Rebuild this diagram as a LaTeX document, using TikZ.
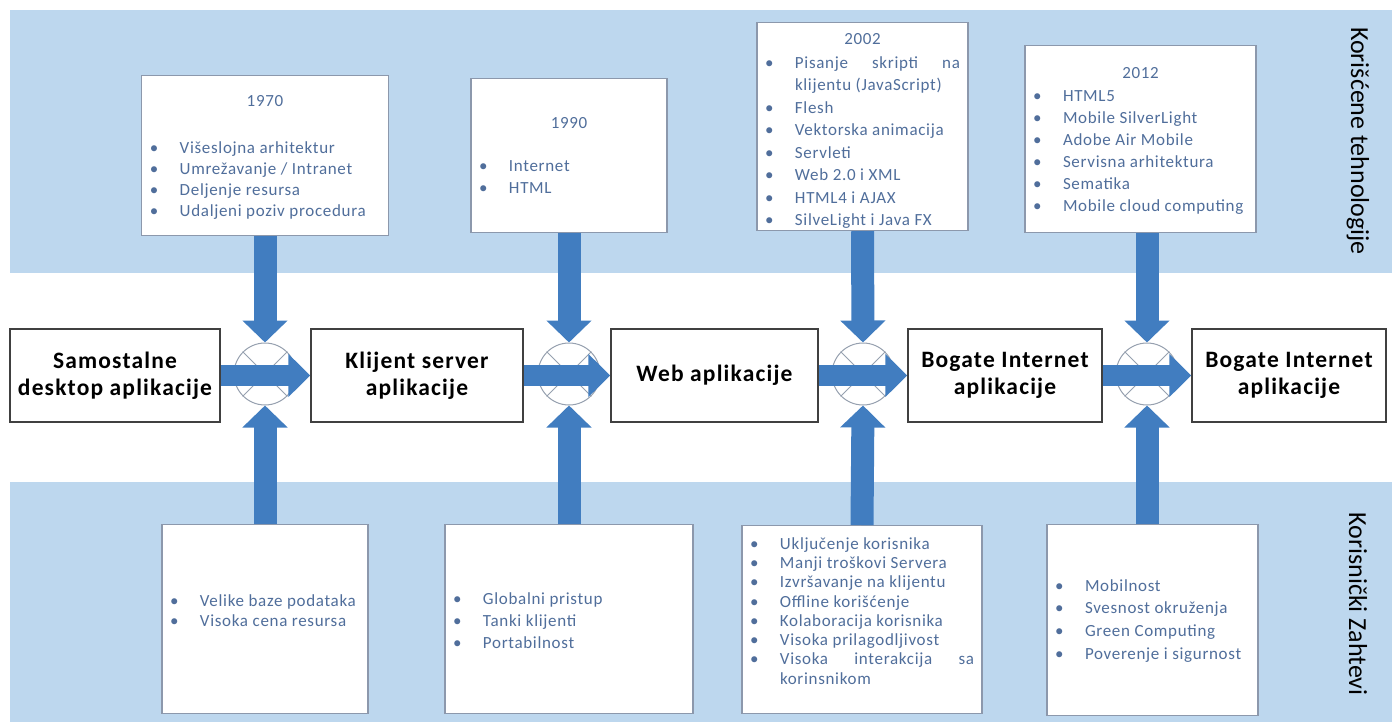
\documentclass[tikz,border=0pt]{standalone}
\usepackage{fontspec}
\setmainfont{Carlito}
\newfontfamily\listface{Carlito}[LetterSpace=4]
\newfontfamily\eraface{Carlito}[LetterSpace=5]
\usetikzlibrary{arrows.meta}
\definecolor{bandblue}{RGB}{189,215,238}
\definecolor{flowblue}{RGB}{65,125,192}
\definecolor{listblue}{RGB}{80,110,155}
\definecolor{listframe}{RGB}{140,152,172}
\definecolor{ringgrey}{RGB}{150,160,175}
\newcommand{\bul}{\makebox[30pt][l]{\textbullet}}
\newcommand{\ind}{\hspace*{30pt}}
\newcommand{\listfont}[1]{\listface\fontsize{17}{#1}\selectfont}
\tikzset{%
  every era/.style={
    draw=black!75,
    line width=1.5pt,
    fill=white,
    minimum height=93pt,
    align=center,
    font=\eraface\fontsize{23.5}{27}\selectfont\bfseries
  },
  list box/.style={
    draw=listframe,
    line width=1.2pt,
    fill=white,
    anchor=north,
    inner xsep=8pt,
    inner ysep=0pt,
    align=flush left,
    text=listblue
  },
  merge/.style={
    circle,
    draw=ringgrey,
    fill=white,
    line width=1pt,
    minimum size=62pt,
    inner sep=0pt
  },
  flow/.style={
    draw=flowblue,
    line width=21pt,
    -{Triangle[width=42pt,length=22pt]}
  },
}

\begin{document}
\begin{tikzpicture}[x=1pt,y=-1pt]
    \useasboundingbox (0,0) rectangle (1395,725);
    % bands
    \fill[bandblue] (10,10) rectangle (1392,273);
    \fill[bandblue] (10,482) rectangle (1392,722);
    \node[rotate=-90,font=\fontsize{26}{30}\selectfont] (tech) at (1358,141) {Korišćene tehnologije};
    \node[rotate=-90,font=\fontsize{26}{30}\selectfont] (req) at (1358,604) {Korisnički Zahtevi};

    % technologies
    \node[list box,text width=230.5pt,text height=30.5pt,text depth=129.5pt,font=\listfont{21}] (t1970) at (265,75)
      {\makebox[\linewidth]{1970}\\[26pt]
       \bul Višeslojna arhitektur\\ \bul Umrežavanje / Intranet\\ \bul Deljenje resursa\\ \bul Udaljeni poziv procedura};
    \node[list box,text width=180pt,text height=49.5pt,text depth=104.5pt,font=\listfont{22}] (t1990) at (569,78)
      {\makebox[\linewidth]{1990}\\[21pt]
       \bul Internet\\ \bul HTML};
    \node[list box,text width=195pt,text height=21.5pt,text depth=186.5pt,font=\listfont{22.5}] (t2002) at (862.5,22)
      {\makebox[\linewidth]{2002}\\[1.5pt]
       \bul Pisanje\hfill skripti\hfill na\\ \ind klijentu (JavaScript)\\ \bul Flesh\\ \bul Vektorska animacija\\
       \bul Servleti\\ \bul Web 2.0 i XML\\ \bul HTML4 i AJAX\\ \bul SilveLight i Java FX};
    \node[list box,text width=215pt,text height=32.5pt,text depth=154.5pt,font=\listfont{22}] (t2012) at (1140.5,45)
      {\makebox[\linewidth]{2012}\\[1pt]
       \bul HTML5\\ \bul Mobile SilverLight\\ \bul Adobe Air Mobile\\ \bul Servisna arhitektura\\
       \bul Sematika\\ \bul Mobile cloud computing};

    % requirements
    \node[list box,text width=190pt,text height=81.5pt,text depth=107.5pt,font=\listfont{20}] (z1) at (265,524)
      {\bul Velike baze podataka\\ \bul Visoka cena resursa};
    \node[list box,text width=232pt,text height=79.5pt,text depth=109.5pt,font=\listfont{22}] (z2) at (569,524)
      {\bul Globalni pristup\\ \bul Tanki klijenti\\ \bul Portabilnost};
    \node[list box,text width=224pt,text height=23.5pt,text depth=164.5pt,font=\listfont{19.3}] (z3) at (862,525)
      {\bul Uključenje korisnika\\ \bul Manji troškovi Servera\\ \bul Izvršavanje na klijentu\\ \bul Offline korišćenje\\
       \bul Kolaboracija korisnika\\ \bul Visoka prilagodljivost\\ \bul Visoka\hfill interakcija\hfill sa\\ \ind korinsnikom};
    \node[list box,text width=195pt,text height=66.5pt,text depth=124.5pt,font=\listfont{22.7}] (z4) at (1152.5,524)
      {\bul Mobilnost\\ \bul Svesnost okruženja\\ \bul Green Computing\\ \bul Poverenje i sigurnost};

    % applications
    \node[every era,minimum width=210pt] (desk) at (115,375.5) {Samostalne\\desktop aplikacije};
    \node[every era,minimum width=212pt] (cs) at (417,375.5) {Klijent server\\aplikacije};
    \node[every era,minimum width=207pt] (web) at (714.5,375.5) {Web aplikacije};
    \node[every era,minimum width=194pt] (ria) at (1005,375.5) {Bogate Internet\\aplikacije};
    \node[every era,minimum width=194pt] (ria2) at (1289,375.5) {Bogate Internet\\aplikacije};

    \node[merge] (m1) at (265,374) {};
    \node[merge] (m2) at (569,374) {};
    \node[merge] (m3) at (863,374) {};
    \node[merge] (m4) at (1147,374) {};
    \foreach \m in {m1,m2,m3,m4}
      \draw[ringgrey,line width=1pt] (\m.north west) -- (\m.south east) (\m.north east) -- (\m.south west);

    \draw[flow] (desk) -- (cs);
    \draw[flow] (cs) -- (web);
    \draw[flow] (web) -- (ria);
    \draw[flow] (ria) -- (ria2);

    \tikzstyle{feed}=[flow,line width=23pt,-{Triangle[width=44pt,length=22pt]}]
    \draw[feed] (t1970.south) -- (m1.north);
    \draw[feed] (t1990.south) -- (m2.north);
    \draw[feed] (t2002.south) -- (m3.north);
    \draw[feed] (t2012.south -| m4) -- (m4.north);
    \draw[feed] (z1.north) -- (m1.south);
    \draw[feed] (z2.north) -- (m2.south);
    \draw[feed] (z3.north) -- (m3.south);
    \draw[feed] (z4.north -| m4) -- (m4.south);
\end{tikzpicture}
\end{document}
